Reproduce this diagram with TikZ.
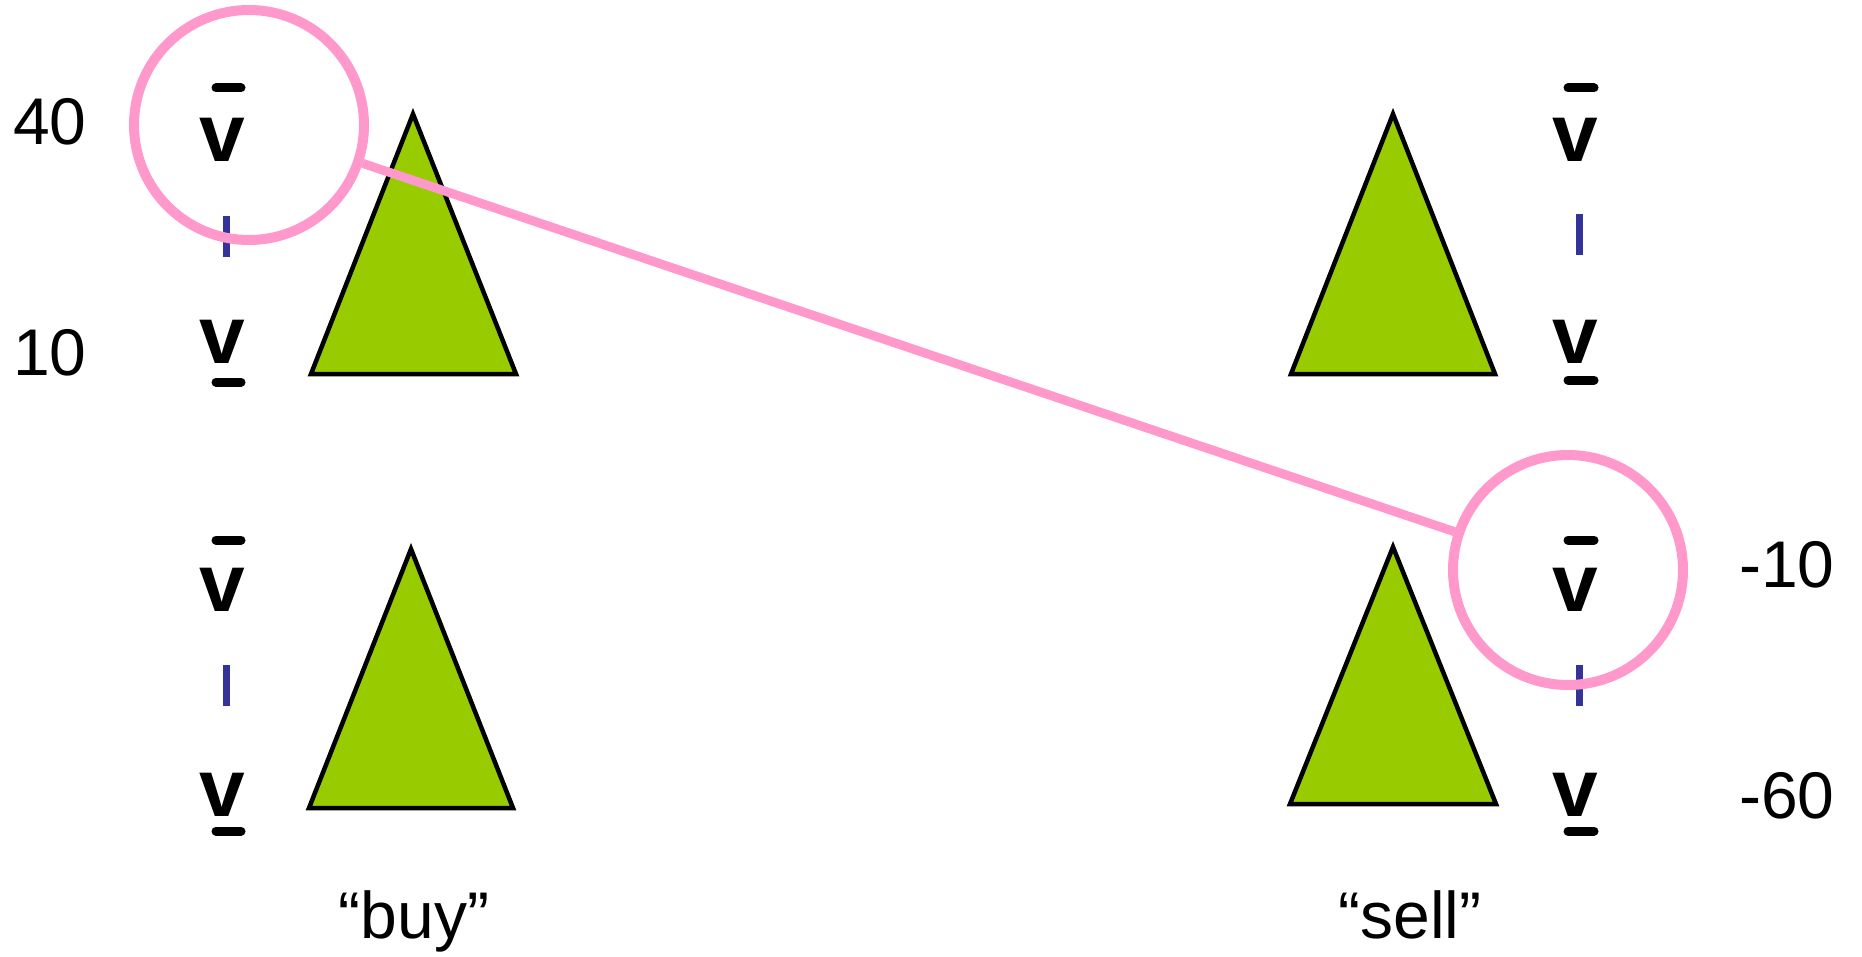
\documentclass[tikz,border=0pt]{standalone}
\usepackage{fontspec}
\setmainfont{Liberation Sans}
\usetikzlibrary{positioning}

\definecolor{leaf}{HTML}{99CC00}
\definecolor{pinkring}{HTML}{FF99CC}
\definecolor{navyivl}{HTML}{333399}

\begin{document}
\begin{tikzpicture}[
  x=1pt, y=-1pt,
  tri/.style={draw=black, fill=leaf, line width=4.5pt},
  ring/.style={draw=pinkring, line width=10pt, circle, minimum size=230pt, inner sep=0pt},
  vsym/.style={font=\fontsize{82}{82}\selectfont\bfseries, anchor=base, inner sep=0pt},
  num/.style={font=\fontsize{66}{70}\selectfont, anchor=base west, inner sep=0pt},
  lbl/.style={font=\fontsize{66}{70}\selectfont, anchor=base, inner sep=0pt},
  barln/.style={line width=9pt, line cap=round},
  ivl/.style={draw=navyivl, line width=7pt}
]
\useasboundingbox (0,0) rectangle (1862,957);

% ─── Subtrees ───
\filldraw[tri] (413,114) -- (516,374) -- (311,374) -- cycle;
\filldraw[tri] (411,549) -- (513,808) -- (309,808) -- cycle;
\filldraw[tri] (1393,114) -- (1495,374) -- (1291,374) -- cycle;
\filldraw[tri] (1393,547) -- (1496,804) -- (1290,804) -- cycle;

% ─── Left column bounds ───
\node[vsym] (vhiA) at (222,162) {v};
\node[vsym] (vloA) at (222,363) {v};
\node[vsym] (vhiB) at (222,611) {v};
\node[vsym] (vloB) at (222,816) {v};
\draw[barln] (216,88) -- (241,88);
\draw[barln] (216,382) -- (241,382);
\draw[barln] (216,540) -- (241,540);
\draw[barln] (216,831) -- (241,831);
\draw[ivl] (226,216) -- (226,257);
\draw[ivl] (226,665) -- (226,706);

% ─── Right column bounds ───
\node[vsym] (vhiC) at (1575,162) {v};
\node[vsym] (vloC) at (1575,363) {v};
\node[vsym] (vhiD) at (1575,611) {v};
\node[vsym] (vloD) at (1575,816) {v};
\draw[barln] (1568,88) -- (1594,88);
\draw[barln] (1568,380) -- (1594,380);
\draw[barln] (1568,540) -- (1594,540);
\draw[barln] (1568,831) -- (1594,831);
\draw[ivl] (1579,214) -- (1579,255);
\draw[ivl] (1579,665) -- (1579,706);

% ─── Values ───
\node[num] (n40)  at (13,145)   {40};
\node[num] (n10)  at (13,375)   {10};
\node[num] (nm10) at (1739,587) {-10};
\node[num] (nm60) at (1739,818) {-60};

% ─── Move labels ───
\node[lbl] (buy)  at (414,938)  {“buy”};
\node[lbl] (sell) at (1410,938) {“sell”};

% ─── Highlighted bounds ───
\node[ring] (cbuy)  at (249,125)  {};
\node[ring] (csell) at (1568,570) {};
\draw[pinkring, line width=9pt] (cbuy) -- (csell);

\end{tikzpicture}
\end{document}
